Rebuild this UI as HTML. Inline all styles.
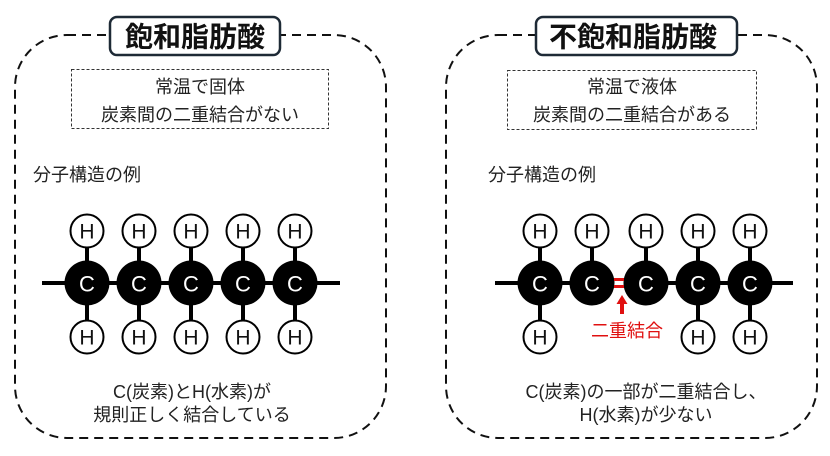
<!DOCTYPE html>
<html><head><meta charset="utf-8"><style>
html,body{margin:0;padding:0;background:#fff;}
svg{display:block;}
text{font-family:"Liberation Sans","Noto Sans CJK JP",sans-serif;fill:#222;}
.t{font-size:18px;}
.ttl{font-size:28px;font-weight:bold;fill:#111;}
.h{font-size:21px;fill:#111;}
.c{font-size:22px;fill:#fff;}
</style></head><body>
<svg width="830" height="456" viewBox="0 0 830 456" xmlns="http://www.w3.org/2000/svg">
<!-- outer dashed panels -->
<rect x="15" y="35" width="371" height="403" rx="52" ry="52" fill="none" stroke="#111" stroke-width="2" stroke-dasharray="9 6"/>
<rect x="446" y="35" width="371" height="403" rx="52" ry="52" fill="none" stroke="#111" stroke-width="2" stroke-dasharray="9 6"/>
<!-- titles -->
<rect x="110" y="17" width="170" height="38" rx="7" fill="#fff" stroke="#1e2a36" stroke-width="2.5"/>
<text class="ttl" x="195" y="37" text-anchor="middle" dominant-baseline="central">飽和脂肪酸</text>
<rect x="536" y="17" width="201" height="38" rx="7" fill="#fff" stroke="#1e2a36" stroke-width="2.5"/>
<text class="ttl" x="633" y="37" text-anchor="middle" dominant-baseline="central">不飽和脂肪酸</text>
<!-- info boxes -->
<rect x="71.5" y="69.5" width="257" height="59" fill="none" stroke="#333" stroke-width="1" stroke-dasharray="3 2"/>
<text class="t" x="200" y="87" text-anchor="middle" dominant-baseline="central">常温で固体</text>
<text class="t" x="200" y="115" text-anchor="middle" dominant-baseline="central">炭素間の二重結合がない</text>
<rect x="507.5" y="70.5" width="249" height="59" fill="none" stroke="#333" stroke-width="1" stroke-dasharray="3 2"/>
<text class="t" x="632" y="87" text-anchor="middle" dominant-baseline="central">常温で液体</text>
<text class="t" x="632" y="115" text-anchor="middle" dominant-baseline="central">炭素間の二重結合がある</text>
<!-- labels -->
<text class="t" x="33" y="175" dominant-baseline="central">分子構造の例</text>
<text class="t" x="488" y="175" dominant-baseline="central">分子構造の例</text>

<!-- LEFT molecule -->
<g stroke="#000" stroke-width="4">
<line x1="42" y1="283" x2="340" y2="283"/>
<line x1="87" y1="231" x2="87" y2="337"/>
<line x1="139" y1="231" x2="139" y2="337"/>
<line x1="191" y1="231" x2="191" y2="337"/>
<line x1="243" y1="231" x2="243" y2="337"/>
<line x1="295" y1="231" x2="295" y2="337"/>
</g>
<g fill="#fff" stroke="#000" stroke-width="2">
<circle cx="87" cy="231" r="16.5"/><circle cx="139" cy="231" r="16.5"/><circle cx="191" cy="231" r="16.5"/><circle cx="243" cy="231" r="16.5"/><circle cx="295" cy="231" r="16.5"/>
<circle cx="87" cy="337" r="16.5"/><circle cx="139" cy="337" r="16.5"/><circle cx="191" cy="337" r="16.5"/><circle cx="243" cy="337" r="16.5"/><circle cx="295" cy="337" r="16.5"/>
</g>
<g fill="#000">
<circle cx="87" cy="283" r="22.5"/><circle cx="139" cy="283" r="22.5"/><circle cx="191" cy="283" r="22.5"/><circle cx="243" cy="283" r="22.5"/><circle cx="295" cy="283" r="22.5"/>
</g>
<g text-anchor="middle" dominant-baseline="central">
<text class="h" x="87" y="232">H</text><text class="h" x="139" y="232">H</text><text class="h" x="191" y="232">H</text><text class="h" x="243" y="232">H</text><text class="h" x="295" y="232">H</text>
<text class="h" x="87" y="338">H</text><text class="h" x="139" y="338">H</text><text class="h" x="191" y="338">H</text><text class="h" x="243" y="338">H</text><text class="h" x="295" y="338">H</text>
<text class="c" x="87" y="284">C</text><text class="c" x="139" y="284">C</text><text class="c" x="191" y="284">C</text><text class="c" x="243" y="284">C</text><text class="c" x="295" y="284">C</text>
</g>

<!-- RIGHT molecule -->
<g stroke="#000" stroke-width="4">
<line x1="495" y1="283" x2="600" y2="283"/>
<line x1="640" y1="283" x2="793" y2="283"/>
<line x1="540" y1="231" x2="540" y2="337"/>
<line x1="592" y1="231" x2="592" y2="283"/>
<line x1="646" y1="231" x2="646" y2="283"/>
<line x1="698" y1="231" x2="698" y2="337"/>
<line x1="750" y1="231" x2="750" y2="337"/>
</g>
<g fill="#fff" stroke="#000" stroke-width="2">
<circle cx="540" cy="231" r="16.5"/><circle cx="592" cy="231" r="16.5"/><circle cx="646" cy="231" r="16.5"/><circle cx="698" cy="231" r="16.5"/><circle cx="750" cy="231" r="16.5"/>
<circle cx="540" cy="337" r="16.5"/><circle cx="698" cy="337" r="16.5"/><circle cx="750" cy="337" r="16.5"/>
</g>
<g fill="#000">
<circle cx="540" cy="283" r="22.5"/><circle cx="592" cy="283" r="22.5"/><circle cx="646" cy="283" r="22.5"/><circle cx="698" cy="283" r="22.5"/><circle cx="750" cy="283" r="22.5"/>
</g>
<!-- double bond -->
<g stroke="#e01010" stroke-width="3">
<line x1="614" y1="279.5" x2="624" y2="279.5"/>
<line x1="614" y1="286.5" x2="624" y2="286.5"/>
</g>
<!-- arrow -->
<line x1="622" y1="302" x2="622" y2="314" stroke="#e01010" stroke-width="4"/>
<polygon points="622,295 616.5,304 627.5,304" fill="#e01010"/>
<text class="t" x="627" y="331" text-anchor="middle" dominant-baseline="central" style="fill:#e01010">二重結合</text>
<g text-anchor="middle" dominant-baseline="central">
<text class="h" x="540" y="232">H</text><text class="h" x="592" y="232">H</text><text class="h" x="646" y="232">H</text><text class="h" x="698" y="232">H</text><text class="h" x="750" y="232">H</text>
<text class="h" x="540" y="338">H</text><text class="h" x="698" y="338">H</text><text class="h" x="750" y="338">H</text>
<text class="c" x="540" y="284">C</text><text class="c" x="592" y="284">C</text><text class="c" x="646" y="284">C</text><text class="c" x="698" y="284">C</text><text class="c" x="750" y="284">C</text>
</g>

<!-- bottom texts -->
<text class="t" x="192" y="392" text-anchor="middle" dominant-baseline="central">C(炭素)とH(水素)が</text>
<text class="t" x="192" y="415" text-anchor="middle" dominant-baseline="central">規則正しく結合している</text>
<text class="t" x="646" y="392" text-anchor="middle" dominant-baseline="central">C(炭素)の一部が二重結合し、</text>
<text class="t" x="646" y="415" text-anchor="middle" dominant-baseline="central">H(水素)が少ない</text>
</svg>
</body></html>
